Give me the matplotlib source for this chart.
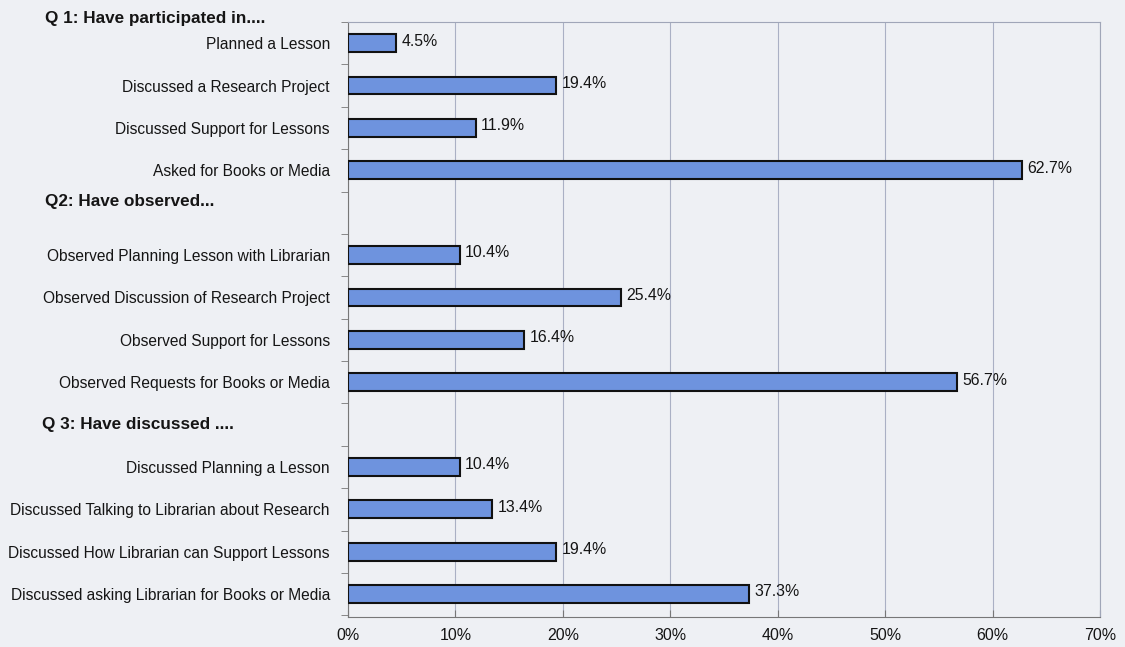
import matplotlib
matplotlib.use("Agg")
import matplotlib.pyplot as plt
import matplotlib.transforms as mtransforms
import numpy as np

# Data (top to bottom); None marks a section-header row without a bar
categories = [
    "Planned a Lesson",
    "Discussed a Research Project",
    "Discussed Support for Lessons",
    "Asked for Books or Media",
    "",
    "Observed Planning Lesson with Librarian",
    "Observed Discussion of Research Project",
    "Observed Support for Lessons",
    "Observed Requests for Books or Media",
    "",
    "Discussed Planning a Lesson",
    "Discussed Talking to Librarian about Research",
    "Discussed How Librarian can Support Lessons",
    "Discussed asking Librarian for Books or Media",
]
values = [4.5, 19.4, 11.9, 62.7, None, 10.4, 25.4, 16.4, 56.7, None, 10.4, 13.4, 19.4, 37.3]
headers = ["Q 1: Have participated in....", "Q2: Have observed...", "Q 3: Have discussed ...."]
header_rows = [-0.59, 3.74, 9.0]
xticks = [0, 10, 20, 30, 40, 50, 60, 70]

BG = "#eef0f4"
BAR = "#6e93de"
TXT = "#151515"

fig = plt.figure(figsize=(11.25, 6.47), dpi=100, facecolor=BG)
ax = fig.add_axes([348/1125, 1-617/647, (1100-348)/1125, (617-22)/647])
ax.set_facecolor(BG)

ypos = np.arange(len(categories))
for y, v in zip(ypos, values):
    if v is None:
        continue
    ax.barh(y, v, height=0.42, color=BAR, edgecolor="#111111", linewidth=1.5, zorder=3)
    ax.text(v + 0.5, y - 0.05, f"{v:.1f}%", va="center", ha="left", fontsize=11.4,
            family="Liberation Sans", color=TXT, zorder=4)

ax.set_xlim(0, 70)
ax.set_ylim(len(categories) - 0.46, -0.47)
ax.set_xticks(xticks)
ax.set_xticklabels([f"{t}%" for t in xticks], fontsize=11.5, family="Liberation Sans", color=TXT)
ax.set_yticks(ypos)
ax.set_yticklabels(categories, fontsize=11.2, family="Liberation Sans", color=TXT)
ax.set_yticks(np.arange(-0.5, len(categories) + 0.5, 1.0), minor=True)
ax.tick_params(axis="y", which="major", length=0, pad=13)
ax.tick_params(axis="y", which="minor", length=5, color="#777777", direction="out")
ax.tick_params(axis="x", length=5, color="#777777", pad=8, direction="in")
ax.grid(axis="x", color="#aab0c4", linewidth=0.8, zorder=0)
for s in ax.spines.values():
    s.set_color("#a0a6b8")
    s.set_linewidth(0.8)
ax.spines["bottom"].set_color("#777777")
ax.spines["left"].set_color("#777777")

trans = mtransforms.blended_transform_factory(fig.transFigure, ax.transData)
hx = [45/1125, 45/1125, 42/1125]
for h, r, x in zip(headers, header_rows, hx):
    ax.text(x, r, h, transform=trans, fontsize=12.3, fontweight="bold", color=TXT,
            family="Liberation Sans", va="center", ha="left", clip_on=False)

fig.savefig("out.png", dpi=100, facecolor=BG)
